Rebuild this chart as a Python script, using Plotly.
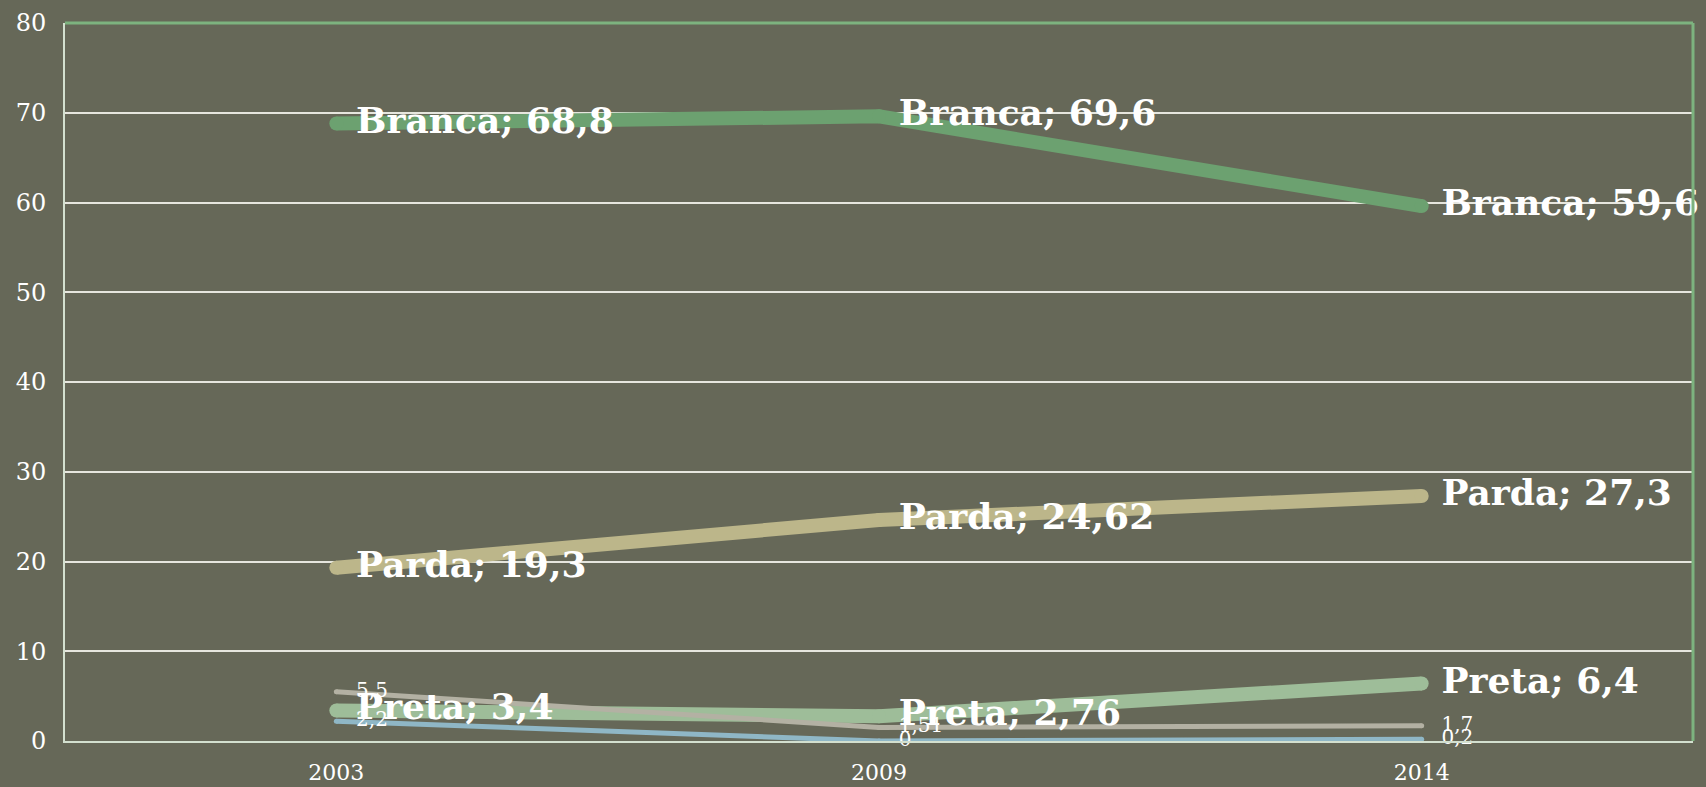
import plotly.graph_objects as go

# dados (proporção por cor/raça, %)
years = ["2003", "2009", "2014"]
branca = [68.8, 69.6, 59.6]
parda = [19.3, 24.62, 27.3]
preta = [3.4, 2.76, 6.4]
amarela = [5.5, 1.51, 1.7]
indigena = [2.2, 0, 0.2]

bg = "#666858"
font_family = "DejaVu Serif"


def fmt(v):
    return str(v).replace(".", ",")


fig = go.Figure()

# linhas: grossas (Branca, Parda, Preta) e finas (as outras duas)
for name, vals, color, w in [("Branca", branca, "#6ca170", 14),
                             ("Parda", parda, "#bcb68a", 14),
                             ("Preta", preta, "#9ebd99", 14),
                             ("Amarela", amarela, "#b3b1a3", 5),
                             ("Indígena", indigena, "#8fb7c6", 5)]:
    fig.add_trace(go.Scatter(
        x=years, y=vals, name=name, mode="lines+markers",
        line=dict(color=color, width=w),
        marker=dict(color=color, size=w),
    ))

# rótulos pequenos (só valor)
for vals in [amarela, indigena]:
    fig.add_trace(go.Scatter(
        x=years, y=vals, mode="markers+text", showlegend=False,
        marker=dict(size=30, opacity=0),
        text=[fmt(v) for v in vals], textposition="middle right",
        textfont=dict(family=font_family, size=20, color="white"),
        cliponaxis=False, hoverinfo="skip",
    ))

# rótulos grandes "Nome; valor" por cima de tudo
for name, vals in [("Branca", branca), ("Parda", parda), ("Preta", preta)]:
    fig.add_trace(go.Scatter(
        x=years, y=vals, mode="markers+text", showlegend=False,
        marker=dict(size=30, opacity=0),
        text=[name + "; " + fmt(v) for v in vals],
        textposition="middle right",
        textfont=dict(family=font_family, size=36, color="white", weight="bold"),
        cliponaxis=False, hoverinfo="skip",
    ))

fig.update_layout(
    width=1706, height=787,
    paper_bgcolor=bg, plot_bgcolor=bg,
    showlegend=False,
    margin=dict(l=65, r=13, t=23, b=46),
    font=dict(family=font_family, color="white", size=23),
    xaxis=dict(
        type="category", range=[-0.5, 2.5], automargin=False,
        showgrid=False, showline=True, linecolor="#d3e0cf", linewidth=2,
        ticks="", ticklabelstandoff=11,
        tickfont=dict(family=font_family, size=22, color="white"),
    ),
    yaxis=dict(
        range=[0, 80], dtick=10, automargin=False,
        showgrid=True, gridcolor="#e6e6de", gridwidth=2,
        showline=True, linecolor="#d3e0cf", linewidth=2,
        zeroline=False, ticks="", ticklabelstandoff=12,
        tickfont=dict(family=font_family, size=24, color="white"),
    ),
    shapes=[
        dict(type="line", xref="paper", yref="paper", x0=0, x1=1, y0=1, y1=1,
             line=dict(color="#7db37f", width=3)),
        dict(type="line", xref="paper", yref="paper", x0=1, x1=1, y0=0, y1=1,
             line=dict(color="#7db37f", width=3)),
    ],
)

# tira a margem padrão do body para a figura ocupar a janela toda
fig.write_html(
    "out.html",
    config={"displayModeBar": False},
    post_script="document.body.style.margin='0';"
                "document.body.style.overflow='hidden';"
                "document.body.style.background='#666858';",
)
